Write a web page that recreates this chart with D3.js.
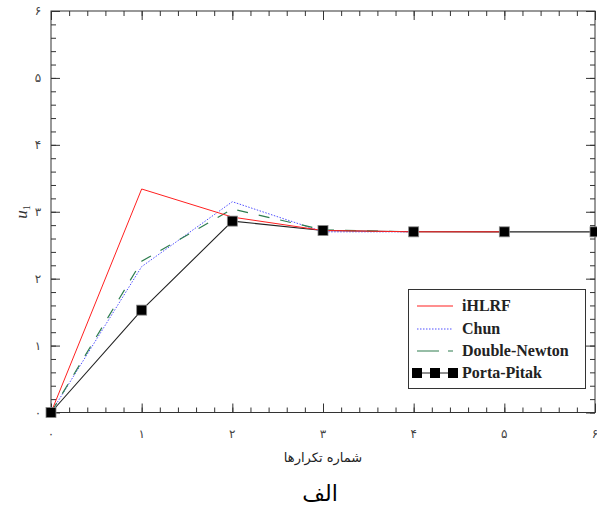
<!DOCTYPE html>
<html><head><meta charset="utf-8">
<script src="https://cdn.jsdelivr.net/npm/d3@7"></script>
<style>body{margin:0;background:#fff;}svg{display:block;}</style>
</head><body>
<svg id="c" width="597" height="506"></svg>
<script>
const xTicks = [0,1,2,3,4,5,6];
const yTicks = [0,1,2,3,4,5,6];
const persianDigits = ["۰","۱","۲","۳","۴","۵","۶"];
const iHLRF = [[0,0],[1,3.34],[2,2.92],[3,2.72],[4,2.70],[5,2.70]];
const chun = [[0,0],[1,2.18],[2,3.15],[3,2.70],[4,2.70]];
const doubleNewton = [[0,0],[1,2.26],[2,3.04],[3,2.73],[4,2.70]];
const portaPitak = [[0,0],[1,1.53],[2,2.86],[3,2.72],[4,2.70],[5,2.70],[6,2.70]];
const legendNames = ["iHLRF","Chun","Double-Newton","Porta-Pitak"];

const SERIF = "Liberation Serif";
const FA = "DejaVu Sans";
const svg = d3.select("#c");
const L=51, R=595, T=11, B=412.5;
const x = d3.scaleLinear().domain([0,6]).range([L,R]);
const y = d3.scaleLinear().domain([0,6]).range([B,T]);

svg.append("rect").attr("x",L).attr("y",T).attr("width",R-L).attr("height",B-T)
  .attr("fill","none").attr("stroke","#333").attr("stroke-width",1);

const minor = d3.range(0,6.001,0.2);
function tickAxis(axisGen, transform){
  svg.append("g").attr("transform",transform).call(axisGen).call(g=>{
    g.select(".domain").remove();
    g.selectAll("text").remove();
    g.selectAll("line").attr("stroke","#333");
  });
}
tickAxis(d3.axisBottom(x).tickValues(minor).tickSize(-5), `translate(0,${B})`);
tickAxis(d3.axisTop(x).tickValues(minor).tickSize(-5), `translate(0,${T})`);
tickAxis(d3.axisLeft(y).tickValues(minor).tickSize(-5), `translate(${L},0)`);
tickAxis(d3.axisRight(y).tickValues(minor).tickSize(-5), `translate(${R},0)`);
tickAxis(d3.axisBottom(x).tickValues(xTicks).tickSize(-9), `translate(0,${B})`);
tickAxis(d3.axisTop(x).tickValues(xTicks).tickSize(-9), `translate(0,${T})`);
tickAxis(d3.axisLeft(y).tickValues(yTicks).tickSize(-9), `translate(${L},0)`);
tickAxis(d3.axisRight(y).tickValues(yTicks).tickSize(-9), `translate(${R},0)`);

svg.append("g").selectAll("text").data(xTicks).join("text")
  .attr("font-family",FA).attr("x",d=>x(d)).attr("y",438).attr("text-anchor","middle")
  .attr("font-size",12).attr("fill","#444")
  .text((d,i)=>persianDigits[i]);
svg.append("g").selectAll("text").data(yTicks).join("text")
  .attr("font-family",FA).attr("x",38).attr("y",d=>y(d)+4).attr("text-anchor","middle")
  .attr("font-size",12).attr("fill","#444")
  .text((d,i)=>persianDigits[i]);

const yl = svg.append("text").attr("font-family",SERIF).attr("transform","translate(27,212) rotate(-90)")
  .attr("text-anchor","middle").attr("font-size",17).attr("fill","#333");
yl.append("tspan").attr("font-style","italic").text("u");
yl.append("tspan").attr("font-size",10).attr("dy",3).text("1");
svg.append("text").attr("font-family",FA).attr("x",323).attr("y",462).attr("text-anchor","middle")
  .attr("font-size",13).attr("fill","#222").text("شماره تکرارها");
svg.append("text").attr("font-family",FA).attr("x",320).attr("y",501).attr("text-anchor","middle")
  .attr("font-size",22).attr("fill","#000").text("الف");

const line = d3.line().x(d=>x(d[0])).y(d=>y(d[1]));
const series = [
  {data:portaPitak, color:"#222", dash:null, w:1.1},
  {data:chun, color:"#5050ff", dash:"1.5,1.5", w:1},
  {data:doubleNewton, color:"#2e7d4f", dash:"11,11", w:1.2},
  {data:iHLRF, color:"#ff2020", dash:null, w:1},
];
series.forEach(s=>{
  svg.append("path").datum(s.data).attr("d",line).attr("fill","none")
    .attr("stroke",s.color).attr("stroke-width",s.w).attr("stroke-dasharray",s.dash);
});
svg.append("g").selectAll("rect").data(portaPitak).join("rect")
  .attr("x",d=>x(d[0])-5).attr("y",d=>y(d[1])-5).attr("width",10).attr("height",10)
  .attr("fill","#000").attr("stroke","#888").attr("stroke-width",0.8);

const lg = svg.append("g");
lg.append("rect").attr("x",408.5).attr("y",289.5).attr("width",177).attr("height",99)
  .attr("fill","#fff").attr("stroke","#333").attr("stroke-width",1);
const ly = [306,329,351,373];
const lstyles = [
  {color:"#ff2020", dash:null},
  {color:"#5050ff", dash:"1.5,1.5"},
  {color:"#2e7d4f", dash:"22,9"},
  {color:"#222", dash:null},
];
legendNames.forEach((n,i)=>{
  lg.append("line").attr("x1",417).attr("x2",453).attr("y1",ly[i]).attr("y2",ly[i])
    .attr("stroke",lstyles[i].color).attr("stroke-width",1.2).attr("stroke-dasharray",lstyles[i].dash);
  lg.append("text").attr("font-family",SERIF).attr("x",462).attr("y",ly[i]+5)
    .attr("font-weight","bold").attr("font-size",16).attr("fill","#222").text(n);
});
[417,435,453].forEach(cx=>{
  lg.append("rect").attr("x",cx-5).attr("y",ly[3]-5).attr("width",10).attr("height",10).attr("fill","#000");
});
</script>
</body></html>
